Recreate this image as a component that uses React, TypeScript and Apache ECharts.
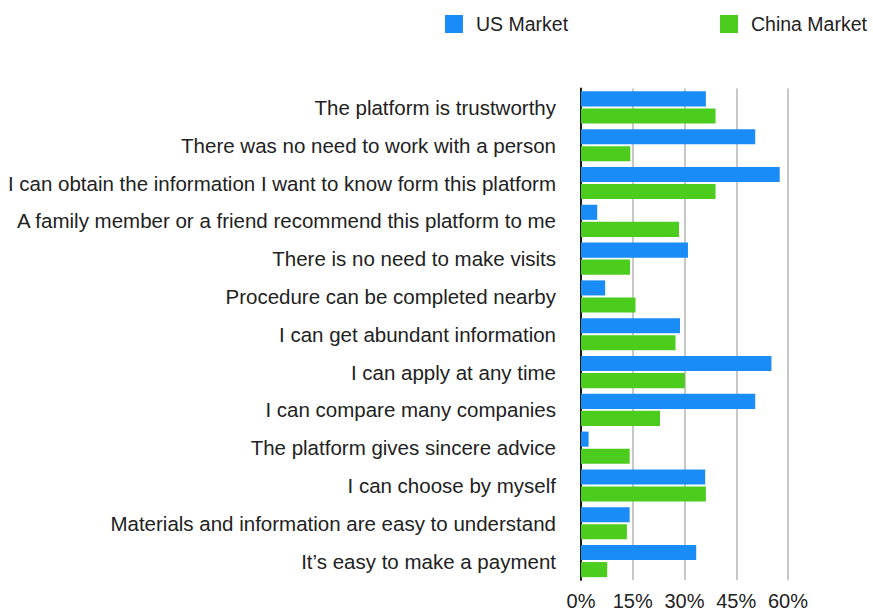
import React, { useEffect, useRef } from "react";
import * as echarts from "echarts";

const categories: string[] = [
  "The platform is trustworthy",
  "There was no need to work with a person",
  "I can obtain the information I want to know form this platform",
  "A family member or a friend recommend this platform to me",
  "There is no need to make visits",
  "Procedure can be completed nearby",
  "I can get abundant information",
  "I can apply at any time",
  "I can compare many companies",
  "The platform gives sincere advice",
  "I can choose by myself",
  "Materials and information are easy to understand",
  "It\u2019s easy to make a payment",
];

const usMarket: number[] = [36.2, 50.5, 57.6, 4.7, 31, 7, 28.7, 55.2, 50.5, 2.2, 36, 14.1, 33.4];
const chinaMarket: number[] = [39, 14.3, 39, 28.4, 14.2, 15.8, 27.4, 30.1, 22.9, 14.1, 36.2, 13.3, 7.6];

const xTicks: number[] = [0, 15, 30, 45, 60];

const seriesNames: string[] = ["US Market", "China Market"];

export default function App() {
  const ref = useRef<HTMLDivElement>(null);
  useEffect(() => {
    if (!ref.current) return;
    const chart = echarts.init(ref.current, undefined, { renderer: "svg" });
    const font = "Liberation Sans, Arial, Helvetica, sans-serif";
    const legendBase = {
      top: 14,
      padding: 0,
      itemWidth: 18,
      itemHeight: 18,
      icon: "rect",
      textStyle: { fontSize: 19.5, color: "#222", fontFamily: font, padding: [0, 0, 0, 8] },
    };
    chart.setOption({
      animation: false,
      backgroundColor: "#ffffff",
      textStyle: { fontFamily: font },
      legend: [
        { ...legendBase, left: 445, data: [seriesNames[0]] },
        { ...legendBase, left: 720, data: [seriesNames[1]] },
      ],
      grid: { left: 581, right: 85, top: 88.5, bottom: 32 },
      xAxis: {
        type: "value",
        min: xTicks[0],
        max: xTicks[xTicks.length - 1],
        interval: 15,
        axisLine: { show: false },
        axisTick: { show: false },
        axisLabel: {
          formatter: (v: number) => v + "%",
          fontSize: 20,
          color: "#222",
          margin: 11,
          fontFamily: font,
        },
        splitLine: { show: true, lineStyle: { color: "#b5b5b5", width: 1.5 } },
      },
      yAxis: {
        type: "category",
        inverse: true,
        data: categories,
        axisLine: { show: true, lineStyle: { color: "#1a1a1a", width: 2 } },
        axisTick: { show: false },
        axisLabel: { fontSize: 20.5, color: "#222", margin: 25, fontFamily: font },
      },
      series: [
        {
          name: seriesNames[0],
          type: "bar",
          data: usMarket,
          itemStyle: { color: "#1a8cf7" },
          barGap: "13%",
          barCategoryGap: "15%",
        },
        {
          name: seriesNames[1],
          type: "bar",
          data: chinaMarket,
          itemStyle: { color: "#4ccc1d" },
          barGap: "13%",
          barCategoryGap: "15%",
        },
      ],
    });
    return () => chart.dispose();
  }, []);
  return (
    <div
      ref={ref}
      style={{ position: "fixed", left: 0, top: 0, width: 873, height: 612 }}
    />
  );
}
